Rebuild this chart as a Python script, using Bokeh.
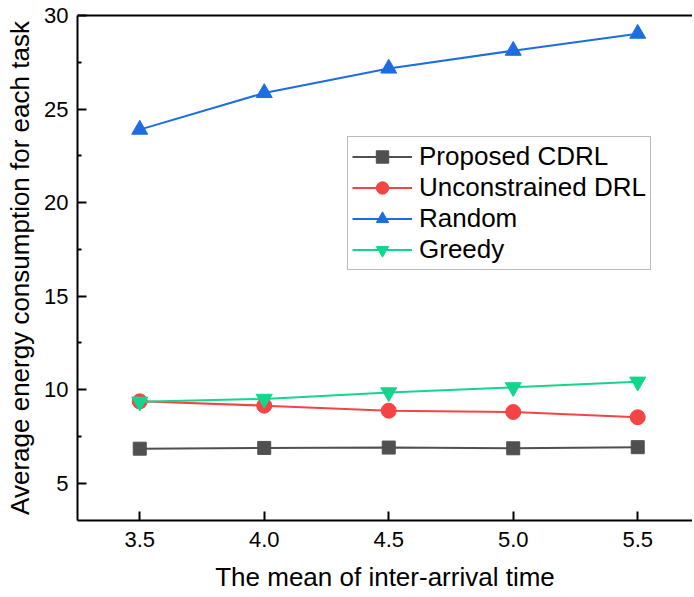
from bokeh.plotting import figure
from bokeh.models import LinearAxis, FixedTicker, Legend, Range1d, NumeralTickFormatter
from bokeh.embed import file_html
from bokeh.resources import INLINE

x = [3.5, 4.0, 4.5, 5.0, 5.5]
proposed = [6.84, 6.88, 6.9, 6.86, 6.92]
unconstrained = [9.37, 9.14, 8.87, 8.8, 8.52]
random_ = [23.9, 25.86, 27.17, 28.12, 29.03]
greedy = [9.35, 9.5, 9.85, 10.12, 10.42]

x_ticks = [3.5, 4.0, 4.5, 5.0, 5.5]
y_ticks = [5, 10, 15, 20, 25, 30]

FONT = "Liberation Sans"

p = figure(width=692, height=595, output_backend="svg", toolbar_location=None,
           x_range=Range1d(3.25, 5.72), y_range=Range1d(3.0, 30.0),
           min_border_left=77, min_border_top=15, min_border_right=0, min_border_bottom=75)
p.outline_line_color = None
p.xgrid.visible = False
p.ygrid.visible = False
p.background_fill_color = "white"

series = [
    ("Proposed CDRL", proposed, "#505050", "square", 13),
    ("Unconstrained DRL", unconstrained, "#f54444", "circle", 15),
    ("Random", random_, "#1c6ee0", "triangle", 16),
    ("Greedy", greedy, "#12d68c", "inverted_triangle", 16),
]
items = []
for name, ys, col, mk, sz in series:
    l = p.line(x, ys, line_color=col, line_width=2)
    s = p.scatter(x, ys, marker=mk, size=sz, fill_color=col, line_color=col)
    items.append((name, [l, s]))

legend = Legend(items=items, location=(270, 250))
legend.label_text_font = FONT
legend.label_text_font_size = "26px"
legend.label_text_color = "black"
legend.glyph_width = 60
legend.glyph_height = 31
legend.label_height = 31
legend.label_standoff = 7
legend.spacing = 0
legend.padding = 4
legend.margin = 0
legend.border_line_color = "#777777"
legend.border_line_width = 1
legend.background_fill_alpha = 1.0
p.add_layout(legend, "center")

xa = p.xaxis[0]
xa.ticker = FixedTicker(ticks=x_ticks)
xa.formatter = NumeralTickFormatter(format="0.0")
xa.axis_label = "The mean of inter-arrival time"
ya = p.yaxis[0]
ya.ticker = FixedTicker(ticks=y_ticks, minor_ticks=[7.5, 12.5, 17.5, 22.5, 27.5])
ya.axis_label = "Average energy consumption for each task"
for ax in (xa, ya):
    ax.axis_line_width = 2
    ax.axis_line_color = "black"
    ax.major_tick_line_width = 2
    ax.major_tick_line_color = "black"
    ax.major_tick_in = 9
    ax.major_tick_out = 0
    ax.minor_tick_line_width = 2
    ax.minor_tick_line_color = "black"
    ax.minor_tick_in = 4
    ax.minor_tick_out = 0
    ax.major_label_text_font = FONT
    ax.major_label_text_font_size = "22px"
    ax.major_label_text_color = "black"
    ax.axis_label_text_font = FONT
    ax.axis_label_text_font_size = "26px"
    ax.axis_label_text_font_style = "normal"
    ax.axis_label_text_color = "black"
xa.minor_tick_line_color = None
xa.major_label_standoff = 11
xa.axis_label_standoff = 12
ya.major_label_standoff = 9
ya.axis_label_standoff = 6

top = LinearAxis(axis_line_width=2, axis_line_color="black",
                 major_tick_line_color=None, minor_tick_line_color=None,
                 major_label_text_color=None, major_label_standoff=0,
                 major_label_text_font_size="1px",
                 ticker=FixedTicker(ticks=x_ticks))
p.add_layout(top, "above")

open("out.html", "w").write(file_html(p, INLINE))
